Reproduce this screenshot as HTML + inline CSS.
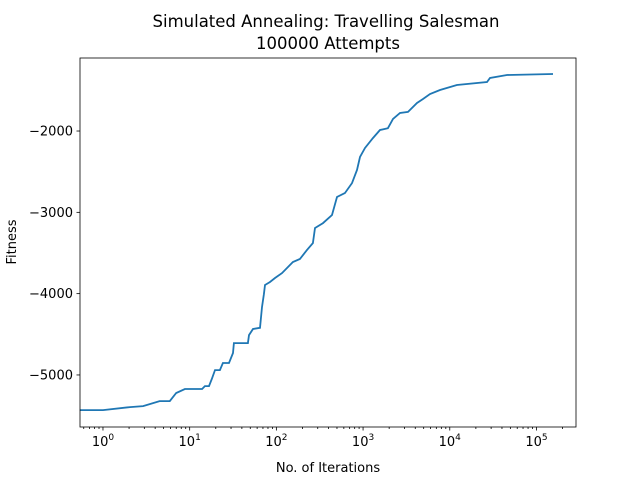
<!DOCTYPE html>
<html><head><meta charset="utf-8"><style>
body{margin:0;background:#fff}
svg{font-family:"DejaVu Sans","Liberation Sans",sans-serif}
</style></head><body>
<svg id="chart" width="640" height="480" xmlns="http://www.w3.org/2000/svg">
<rect width="640" height="480" fill="#fff"/>
<text x="326" y="27" font-size="16.5" text-anchor="middle">Simulated Annealing: Travelling Salesman</text>
<text x="328" y="49" font-size="16.5" text-anchor="middle">100000 Attempts</text>
<g id="ticks"></g>
<polyline id="series" fill="none" stroke="#1f77b4" stroke-width="1.8"/>
<rect x="80" y="58" width="496" height="369" fill="none" stroke="#000" stroke-width="0.8"/>
<text x="328" y="472" font-size="13" text-anchor="middle">No. of Iterations</text>
<text x="16" y="242" font-size="13" text-anchor="middle" transform="rotate(-90 16 242)">Fitness</text>
</svg>
<script>
const iterations=[0.54,1,2.05,2.9,4.5,5.9,7.0,8.8,13.9,15,16.7,18,19.6,22.3,24.2,28.4,31.6,32.4,47,48.3,53.7,64.7,68.2,71.9,73.9,84.4,96.4,116,155,187,225,264,279,345,438,500,618,745,851,921,1052,1301,1567,1936,2213,2667,3298,4188,4912,5914,7715,12100,26860,29100,45700,155000];
const fitness=[-5432,-5432,-5395,-5383,-5321,-5321,-5222,-5173,-5173,-5137,-5137,-5050,-4940,-4940,-4853,-4853,-4730,-4608,-4608,-4510,-4435,-4420,-4165,-4005,-3894,-3857,-3808,-3747,-3611,-3574,-3464,-3378,-3193,-3132,-3033,-2812,-2763,-2640,-2480,-2320,-2209,-2086,-1988,-1965,-1852,-1778,-1765,-1656,-1606,-1545,-1496,-1434,-1397,-1348,-1311,-1299];
const yTicks=[-5000,-4000,-3000,-2000];
const xDecades=[0,1,2,3,4,5];
const NS="http://www.w3.org/2000/svg";
const X0=80,X1=576,Y0=58,Y1=427;
const lmin=-0.265,lmax=5.456,fmin=-5640,fmax=-1102;
function xs(v){return X0+(Math.log10(v)-lmin)/(lmax-lmin)*(X1-X0);}
function ys(v){return Y1-(v-fmin)/(fmax-fmin)*(Y1-Y0);}
const g=document.getElementById('ticks');
function line(x1,y1,x2,y2,name){const l=document.createElementNS(NS,'line');l.setAttribute('x1',x1);l.setAttribute('y1',y1);l.setAttribute('x2',x2);l.setAttribute('y2',y2);l.setAttribute('stroke','#000');l.setAttribute('stroke-width','0.8');


g.appendChild(l);}
yTicks.forEach(t=>{const y=ys(t);line(X0-3.5,y,X0,y,'y-tick');
const tx=document.createElementNS(NS,'text');tx.setAttribute('x',X0-7);tx.setAttribute('y',y+4.5);tx.setAttribute('font-size','13');tx.setAttribute('text-anchor','end');tx.textContent='\u2212'+Math.abs(t);


g.appendChild(tx);});
for(let d=-1;d<=5;d++){for(let m=2;m<=9;m++){const v=m*Math.pow(10,d);const x=xs(v);if(x>X0&&x<X1)line(x,Y1,x,Y1+2,'x-minor-tick');}}
xDecades.forEach(d=>{const x=xs(Math.pow(10,d));line(x,Y1,x,Y1+3.5,'x-tick');
const tx=document.createElementNS(NS,'text');tx.setAttribute('x',x);tx.setAttribute('y',Y1+19);tx.setAttribute('font-size','13');tx.setAttribute('text-anchor','middle');
tx.innerHTML='10<tspan dy="-6" font-size="9">'+d+'</tspan>';


g.appendChild(tx);});
document.getElementById('series').setAttribute('points',iterations.map((v,i)=>xs(v).toFixed(1)+','+ys(fitness[i]).toFixed(1)).join(' '));
</script>
</body></html>
